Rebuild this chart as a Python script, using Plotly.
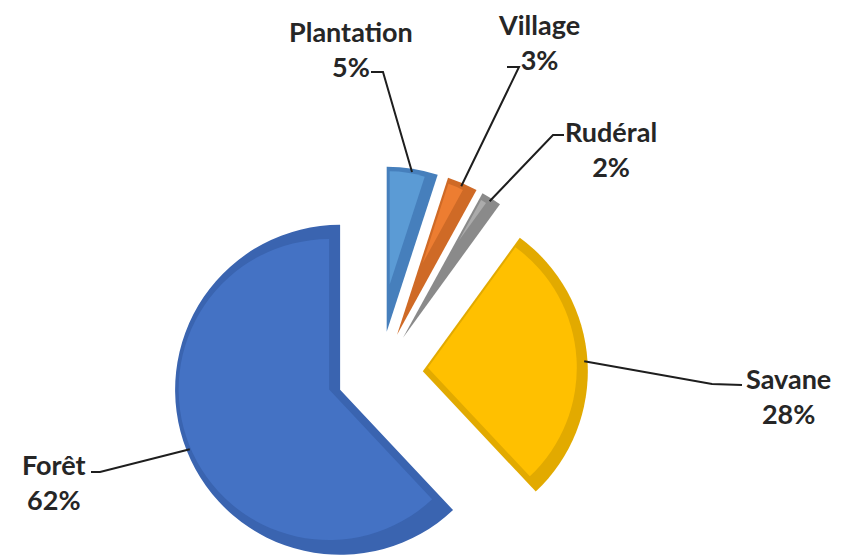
import math
import plotly.graph_objects as go

# Land-cover shares (%), drawn clockwise from 12 o'clock
CATEGORIES = ["Plantation", "Village", "Rudéral", "Savane", "Forêt"]
SHARES = [5, 3, 2, 28, 62]
FACE_COLORS = ["#5B9BD5", "#ED7D31", "#ABABAB", "#FFC000", "#4472C4"]
EDGE_COLORS = ["#467FBC", "#CF6A26", "#8A8A8A", "#E2AA00", "#3A64B0"]

# Figure geometry (pixels)
W, H = 846, 555
CENTER = (380, 374)      # centre of the pie before the slices are pulled out
RADIUS = 165
PULL = 0.26              # explosion distance as a fraction of the radius
BEVEL = 7                # width of the darker bevelled rim
LIGHT = (-4, -3)         # light from the upper left shifts the flat face

# Label block centres and the leader-line elbows / ends (pixels)
LABEL_POS = [(351, 49), (539, 42), (611, 149), (788, 396), (54, 482)]
LEADER_ELBOW = [(383, 72), (519, 67), (553, 135), (712, 384), (100, 472)]
LEADER_END = [(371, 72), (507, 67), (564, 135), (742, 385), (91, 472)]

CLEAR = "rgba(0,0,0,0)"


def px_to_paper(x, y):
    return x / W, 1 - y / H


def domain_for(cx, cy, r):
    x0, y1 = px_to_paper(cx - r, cy - r)
    x1, y0 = px_to_paper(cx + r, cy + r)
    clamp = lambda v: min(1.0, max(0.0, v))
    return dict(x=[clamp(x0), clamp(x1)], y=[clamp(y0), clamp(y1)])


total = sum(SHARES)
starts = []
acc = 0
for v in SHARES:
    starts.append(acc / total)
    acc += v

geom = []
for i, v in enumerate(SHARES):
    frac = v / total
    mid = 2 * math.pi * (starts[i] + frac / 2)
    ux, uy = math.sin(mid), -math.cos(mid)
    vx = CENTER[0] + PULL * RADIUS * ux
    vy = CENTER[1] + PULL * RADIUS * uy
    geom.append((vx, vy, ux, uy, frac))

fig = go.Figure()


def slice_trace(i, cx, cy, r, color, hover):
    colors = [color if j == i else CLEAR for j in range(len(SHARES))]
    return go.Pie(
        labels=CATEGORIES,
        values=SHARES,
        sort=False,
        direction="clockwise",
        rotation=0,
        marker=dict(colors=colors, line=dict(width=0, color=CLEAR)),
        textinfo="none",
        hoverinfo="label+percent" if hover else "skip",
        showlegend=False,
        domain=domain_for(cx, cy, r),
    )


# darker bevel body of each slice
for i, (vx, vy, ux, uy, frac) in enumerate(geom):
    fig.add_trace(slice_trace(i, vx, vy, RADIUS, EDGE_COLORS[i], False))

# lighter flat face, inset by the bevel width
for i, (vx, vy, ux, uy, frac) in enumerate(geom):
    half = math.pi * frac
    shift = BEVEL / math.sin(half)
    fx = vx + shift * ux + LIGHT[0]
    fy = vy + shift * uy + LIGHT[1]
    fr = RADIUS - BEVEL - shift
    fig.add_trace(slice_trace(i, fx, fy, fr, FACE_COLORS[i], True))

# labels with leader lines
for i, (vx, vy, ux, uy, frac) in enumerate(geom):
    tx, ty = vx + 0.98 * RADIUS * ux, vy + 0.98 * RADIUS * uy
    pts = [px_to_paper(tx, ty), px_to_paper(*LEADER_ELBOW[i]), px_to_paper(*LEADER_END[i])]
    path = "M {:.5f},{:.5f} L {:.5f},{:.5f} L {:.5f},{:.5f}".format(
        pts[0][0], pts[0][1], pts[1][0], pts[1][1], pts[2][0], pts[2][1])
    fig.add_shape(type="path", path=path, xref="paper", yref="paper",
                  line=dict(color="#1E1E1E", width=2))
    lx, ly = px_to_paper(*LABEL_POS[i])
    fig.add_annotation(
        x=lx, y=ly, xref="paper", yref="paper",
        text=f"{CATEGORIES[i]}<br>{SHARES[i]}%",
        showarrow=False, xanchor="center", yanchor="middle", align="center",
        font=dict(family="Lato", size=27, color="#262626", weight="bold"),
    )

fig.update_layout(
    width=W, height=H, autosize=False,
    margin=dict(l=0, r=0, t=0, b=0),
    paper_bgcolor="white", plot_bgcolor="white",
    showlegend=False,
)

fig.write_html("out.html")
